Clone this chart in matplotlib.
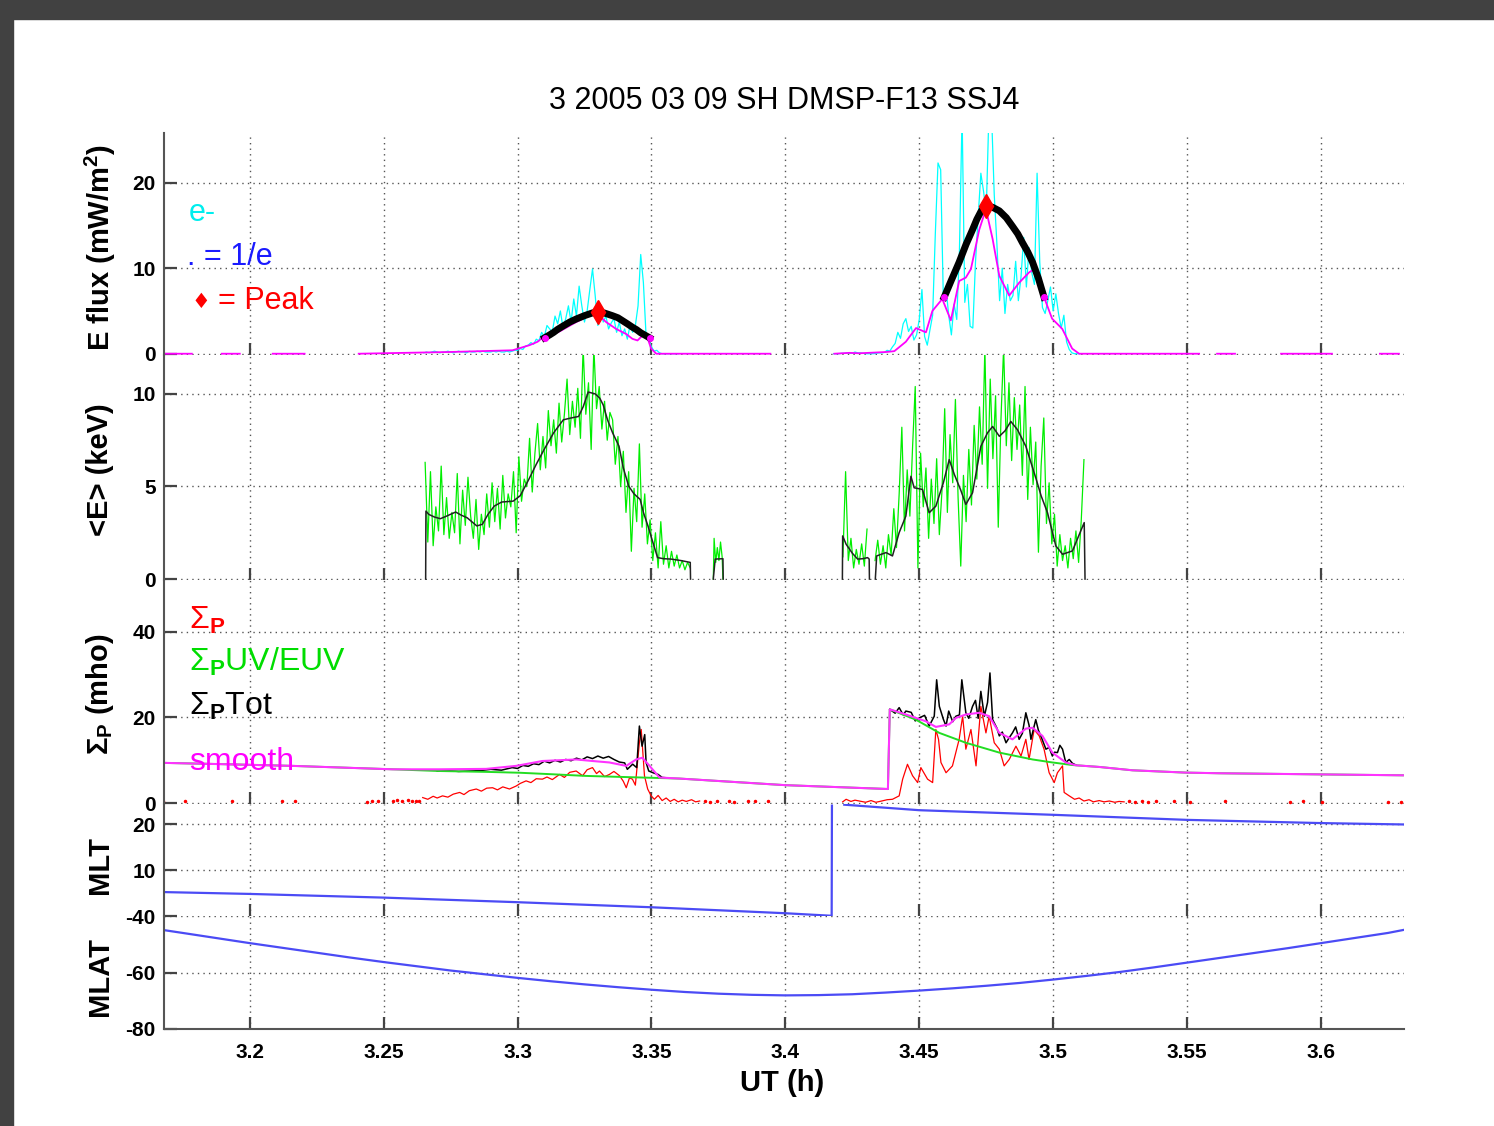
import numpy as np
import matplotlib
matplotlib.use("Agg")
import matplotlib.pyplot as plt
from matplotlib.patches import Rectangle

plt.rcParams["font.family"] = ["Liberation Sans", "DejaVu Sans"]
plt.rcParams["mathtext.fontset"] = "custom"
plt.rcParams["mathtext.rm"] = "Liberation Sans"
plt.rcParams["mathtext.bf"] = "Liberation Sans:bold"
plt.rcParams["mathtext.it"] = "Liberation Sans:italic"
plt.rcParams["axes.unicode_minus"] = False

nan = np.nan

ut_range = (3.168, 3.631)
ut_ticks = [3.2, 3.25, 3.3, 3.35, 3.4, 3.45, 3.5, 3.55, 3.6]
ut_ticklabels = ["3.2", "3.25", "3.3", "3.35", "3.4", "3.45", "3.5", "3.55", "3.6"]
sample_dt = 0.001

# panel 1: electron energy flux (mW/m^2)
eflux_raw_a_start = 3.265
eflux_raw_a = [0.1, 0.2, 0.1, 0.2, 0.3, 0.2, 0.1, 0.2, 0.2, 0.3, 0.2, 0.1, 0.2,
               0.3, 0.2, 0.2, 0.1, 0.3, 0.2, 0.2, 0.3, 0.2, 0.3, 0.2, 0.2,
               0.2, 0.3, 0.2, 0.3, 0.2, 0.2, 0.3, 0.2, 0.3, 0.4,
               0.4, 0.6, 0.5, 0.9, 1.0, 1.3, 1.1, 1.7, 1.5, 2.5,
               2.0, 3.3, 2.9, 2.6, 4.4, 3.5, 5.0, 3.0, 4.1, 5.6,
               3.7, 6.4, 4.4, 7.9, 5.6, 3.7, 5.0, 7.5, 9.9, 6.8,
               3.3, 5.6, 3.7, 4.4, 2.9, 3.6, 4.1, 2.5, 3.7, 2.1,
               2.9, 1.7, 3.3, 2.5, 3.3, 5.6, 11.6, 8.3, 2.1, 1.7,
               0.8, 0.3, 0.4, 0.1, 0, 0, 0, 0, 0, 0, 0]
eflux_raw_b_start = 3.418
eflux_raw_b = [0, 0, 0, 0.05, 0.05, 0.1, 0.05, 0.05, 0.2, 0.1,
               0.1, 0.05, 0, 0, 0, 0, 0.05, 0.1, 0.1, 0.15,
               0.4, 0.3, 0.8, 1.2, 2.5, 1.8, 3.5, 4.1, 2.6, 3.2,
               1.6, 2.2, 4.0, 7.5, 2.0, 1.0, 2.8, 4.5, 14.0, 22.3,
               21.5, 6.4, 7.6, 4.5, 2.2, 5.8, 4.0, 12.0, 28, 6.0,
               8.1, 3.2, 3.0, 10.7, 16.0, 21.1, 19.0, 16.5, 28, 28,
               18.6, 12.8, 6.2, 10.0, 4.7, 8.1, 6.2, 6.8, 10.8, 6.2,
               9.0, 13.6, 7.8, 12.4, 9.5, 8.1, 21.1, 10.7, 5.4, 4.7,
               6.2, 7.8, 5.0, 7.0, 4.7, 3.0, 4.5, 1.4, 0.5, 0.1,
               0, 0, 0]
eflux_smooth_t = [3.1675, 3.1784, nan, 3.1896, 3.1963, nan, 3.2086, 3.2205, nan,
                  3.2407, 3.2746, 3.2981, 3.3045, 3.3075, 3.3093, 3.3157, 3.3219,
                  3.3256, 3.3287, 3.3306, 3.3331, 3.3368, 3.3406, 3.3429, 3.3448,
                  3.3466, 3.3485, 3.3499, 3.3518, 3.3944, nan,
                  3.4183, 3.4240, 3.4276, 3.4377, 3.4407, 3.4450, 3.4488, 3.4525,
                  3.4549, 3.4586, 3.4618, 3.4649, 3.4674, 3.4693, 3.4724, 3.4749,
                  3.4774, 3.4799, 3.4836, 3.4873, 3.4910, 3.4935, 3.4966, 3.4996,
                  3.5034, 3.5071, 3.5097, 3.5545, nan, 3.5612, 3.5679, nan,
                  3.5851, 3.6041, nan, 3.6220, 3.6291]
eflux_smooth = [0, 0, nan, 0, 0, nan, 0, 0, nan,
                0, 0.2, 0.4, 1.0, 1.4, 1.86, 2.6, 3.7,
                4.26, 4.65, 4.4, 3.7, 2.9, 2.3, 1.74, 1.55,
                2.1, 1.86, 0.6, 0, 0, nan,
                0, 0.1, 0.05, 0.2, 0.3, 1.4, 3.0, 2.5,
                5.0, 6.4, 3.9, 8.5, 8.9, 9.9, 14.5, 16.9,
                13.4, 9.1, 6.8, 8.3, 9.5, 10.0, 6.6, 4.1,
                2.9, 0.6, 0, 0, nan, 0, 0, nan,
                0, 0, nan, 0, 0]
fit_a_t = [3.3101, 3.3120, 3.3135, 3.3150, 3.3168, 3.3195, 3.3220, 3.3250, 3.3280,
           3.3302, 3.3325, 3.3354, 3.3375, 3.3390, 3.3410, 3.3429, 3.3445, 3.3460,
           3.3477, 3.3493]
fit_a = [1.86, 2.2, 2.5, 2.85, 3.2, 3.7, 4.07, 4.45, 4.77,
         4.88, 4.75, 4.45, 4.2, 3.9, 3.5, 3.1, 2.8, 2.45,
         2.15, 1.86]
fit_b_t = [3.4593, 3.4620, 3.4649, 3.4675, 3.4699, 3.4715, 3.4730, 3.4740, 3.4749,
           3.4760, 3.4775, 3.4799, 3.4825, 3.4848, 3.4868, 3.4885, 3.4905, 3.4923,
           3.4945, 3.4966]
fit_b = [6.6, 8.6, 10.7, 12.8, 14.5, 15.7, 16.6, 17.1, 17.3,
         17.25, 17.1, 16.7, 15.9, 14.9, 14.0, 13.0, 11.9, 10.7,
         8.8, 6.6]
peak_t = [3.3302, 3.4749]
peak_flux = [4.88, 17.3]
efold_t = [3.3101, 3.3493, 3.4593, 3.4966]
efold_flux = [1.86, 1.86, 6.6, 6.6]

# panel 2: mean energy <E> (keV)
energy_a_start = 3.2655
energy_a = [6.3, 2.0, 5.8, 1.8, 3.9, 2.6, 6.1, 2.4, 4.4, 2.2,
            3.6, 2.5, 5.7, 1.9, 4.8, 2.9, 5.5, 3.4, 2.2, 4.3,
            1.6, 3.5, 2.4, 4.6, 2.8, 5.2, 3.1, 4.9, 2.7, 5.6,
            3.3, 4.6, 3.9, 5.8, 2.5, 6.6, 4.2, 5.4, 5.0, 7.6,
            4.7, 6.8, 8.4, 5.9, 7.7, 6.0, 9.1, 7.2, 8.6, 6.8,
            9.5, 7.4, 8.9, 10.8, 7.8, 9.6, 8.2, 10.3, 7.6, 12.5,
            8.9, 10.6, 7.0, 12.5, 9.2, 10.4, 8.1, 9.6, 7.5, 9.0,
            8.6, 6.2, 7.7, 5.0, 6.9, 3.6, 5.8, 1.5, 4.9, 3.1,
            7.3, 2.8, 4.6, 1.9, 3.2, 1.0, 2.5, 0.6, 3.1, 0.8,
            1.8, 0.6, 1.5, 0.7, 1.3, 0.6, 1.0, 0.5, 0.9, 0.6]
energy_c_t = [3.3731, 3.3734, 3.3740, 3.3746, 3.3752, 3.3758, 3.3764, 3.3767]
energy_c = [0, 2.2, 0.9, 1.7, 1.0, 2.0, 1.2, 0]
energy_b_start = 3.4215
energy_b = [1.2, 5.8, 1.0, 2.2, 0.6, 1.6, 0.8, 1.9, 0.7, 2.7,
            nan, nan, 1.0, 2.1, 0.8, 1.8, 0.6, 2.4, 1.3, 3.8,
            1.7, 4.6, 8.2, 2.6, 5.9, 3.4, 7.1, 10.4, 0.6, 6.8,
            3.9, 6.0, 2.2, 5.4, 3.0, 6.5, 2.4, 4.8, 9.2, 3.6,
            7.8, 5.2, 9.7, 4.4, 0.7, 5.6, 3.1, 7.0, 4.0, 8.3,
            5.4, 9.3, 6.2, 12.5, 4.9, 10.8, 6.5, 9.9, 2.8, 8.6,
            12.5, 7.2, 10.6, 6.4, 9.8, 7.0, 9.4, 5.6, 10.4, 4.3,
            8.2, 5.1, 7.4, 1.45, 6.1, 8.7, 3.0, 5.2, 1.9, 3.5,
            0.7, 2.4, 1.0, 1.8, 0.6, 2.2, 1.1, 2.6, 0.9, 3.2,
            6.45]
energy_smooth_t = [3.2657, 3.2658, 3.2669, 3.2690, 3.2712, 3.2735, 3.2769, 3.2790,
                   3.2812, 3.2848, 3.2869, 3.2890, 3.2913, 3.2941, 3.2984, 3.3010,
                   3.3042, 3.3070, 3.3099, 3.3135, 3.3171, 3.3200, 3.3228, 3.3245,
                   3.3264, 3.3290, 3.3307, 3.3320, 3.3336, 3.3355, 3.3379, 3.3395,
                   3.3415, 3.3435, 3.3458, 3.3470, 3.3487, 3.3505, 3.3523, 3.3545,
                   3.3573, 3.3610, 3.3645, 3.3646, nan,
                   3.3731, 3.3738, 3.3767, 3.3768, nan,
                   3.4213, 3.4214, 3.4227, 3.4250, 3.4270, 3.4290, 3.4307, 3.4313,
                   3.4314, nan, 3.4336, 3.4341, 3.4376, 3.4400, 3.4425, 3.4450,
                   3.4469, 3.4481, 3.4512, 3.4537, 3.4562, 3.4590, 3.4612, 3.4631,
                   3.4655, 3.4674, 3.4699, 3.4730, 3.4755, 3.4774, 3.4799, 3.4820,
                   3.4842, 3.4867, 3.4898, 3.4935, 3.4955, 3.4979, 3.5010, 3.5035,
                   3.5072, 3.5103, 3.5116, 3.5119]
energy_smooth = [0, 3.67, 3.49, 3.35, 3.26, 3.4, 3.62, 3.45,
                 3.31, 2.87, 2.96, 3.5, 3.94, 4.16, 4.21, 4.5,
                 5.38, 6.2, 6.99, 7.9, 8.6, 8.7, 8.78, 9.3,
                 10.1, 10.0, 9.77, 9.4, 8.6, 7.9, 7.17, 6.0,
                 5.02, 4.6, 4.30, 3.6, 2.87, 2.0, 1.16, 1.1,
                 1.08, 1.0, 0.9, 0, nan,
                 0, 1.08, 1.1, 0, nan,
                 0, 2.33, 1.88, 1.4, 1.08, 1.1, 1.16, 1.08,
                 0, nan, 0, 1.25, 1.43, 1.25, 2.51, 3.4,
                 5.55, 4.93, 4.84, 3.58, 3.94, 5.2, 6.45, 5.65,
                 4.8, 4.03, 4.66, 7.17, 7.9, 8.24, 7.71, 8.0,
                 8.51, 8.06, 7.17, 5.47, 4.5, 3.58, 1.79, 1.34,
                 1.52, 2.6, 3.05, 0]

# panel 3: Pedersen conductance (mho)
sigma_smooth_t = [3.1680, 3.1900, 3.2160, 3.2534, 3.2709, 3.2883, 3.2995, 3.3093,
                  3.3219, 3.3280, 3.3343, 3.3406, 3.3443, 3.3466, 3.3493, 3.3530,
                  3.3604, 3.4000, 3.4383, 3.4390, 3.4450, 3.4525, 3.4562, 3.4612,
                  3.4637, 3.4674, 3.4724, 3.4761, 3.4799, 3.4848, 3.4898, 3.4923,
                  3.4960, 3.4997, 3.5047, 3.5085, 3.5172, 3.5296, 3.5495, 3.5619, 3.6306]
sigma_smooth = [9.4, 9.1, 8.7, 7.9, 7.9, 8.0, 8.7, 9.84,
                10.2, 9.84, 9.5, 8.7, 10.2, 10.6, 8.7, 5.98,
                5.74, 4.2, 3.3, 21.9, 20.7, 19.1, 17.8, 18.4,
                19.9, 20.7, 21.1, 20.3, 16.4, 14.9, 17.4, 17.6,
                15.7, 11.8, 9.5, 8.84, 8.45, 7.67, 7.13, 6.98, 6.5]
sigma_uv_t = [3.1680, 3.1900, 3.2160, 3.2534, 3.2709, 3.2883, 3.3007, 3.3131,
              3.3254, 3.3466, 3.3604, 3.4000, 3.4383, 3.4390, 3.4487, 3.4575,
              3.4674, 3.4799, 3.4923, 3.4997, 3.5072, 3.5172, 3.5296, 3.5495,
              3.5619, 3.6306]
sigma_uv = [9.4, 9.1, 8.7, 7.9, 7.5, 7.3, 7.1, 6.74,
            6.36, 5.98, 5.74, 4.2, 3.3, 21.9, 19.5, 16.4,
            14.1, 11.8, 10.2, 9.5, 8.9, 8.45, 7.67, 7.13,
            6.98, 6.5]
sigma_tot_t = [3.270, 3.274, 3.278, 3.282, 3.286, 3.290, 3.294, 3.298, 3.300, 3.302,
               3.304, 3.306, 3.308, 3.310, 3.312, 3.314, 3.316, 3.318, 3.320, 3.322,
               3.324, 3.326, 3.328, 3.330, 3.332, 3.334, 3.336, 3.338, 3.340, 3.341,
               3.343, 3.3445, 3.3455, 3.3465, 3.3475, 3.348, 3.349, 3.351, 3.3525,
               3.354, 3.356, nan,
               3.4390, 3.4410, 3.4425, 3.4440, 3.4450, 3.4470, 3.4485, 3.4500,
               3.4520, 3.4537, 3.4556, 3.4565, 3.4575, 3.4590, 3.4600, 3.4610,
               3.4625, 3.4637, 3.4650, 3.4659, 3.4674, 3.4685, 3.4699, 3.4710,
               3.4720, 3.4730, 3.4743, 3.4755, 3.4764, 3.4774, 3.4790, 3.4799,
               3.4810, 3.4824, 3.4835, 3.4848, 3.4860, 3.4873, 3.4885, 3.4898,
               3.4910, 3.4917, 3.4935, 3.4945, 3.4954, 3.4973, 3.4985, 3.4997,
               3.5005, 3.5016, 3.5025, 3.5035, 3.5047, 3.5060, 3.5072, 3.5085]
sigma_tot = [7.5, 7.6, 7.4, 7.5, 7.6, 7.9, 7.7, 8.3, 8.1, 8.8,
             8.6, 9.2, 9.0, 9.8, 9.4, 10.0, 9.6, 10.2, 9.9, 10.5,
             10.1, 10.8, 10.4, 11.0, 10.5, 10.9, 10.2, 9.6, 9.4, 7.9,
             9.1, 8.3, 18.0, 13.3, 16.0, 9.5, 7.5, 7.0, 6.7,
             6.0, 5.9, nan,
             21.9, 21.0, 22.3, 20.6, 21.5, 21.2, 19.2, 19.9,
             20.5, 18.0, 20.3, 28.8, 22.6, 19.6, 18.0, 21.5,
             19.0, 20.3, 20.6, 28.8, 21.1, 19.8, 22.6, 24.0,
             19.8, 26.1, 20.3, 23.5, 30.4, 19.5, 17.5, 15.7,
             16.6, 14.1, 15.2, 16.4, 17.8, 14.9, 16.3, 21.1,
             18.2, 14.9, 19.5, 17.0, 15.7, 12.6, 13.0, 11.0,
             11.9, 11.8, 13.5, 12.6, 9.5, 10.2, 9.3, 8.9]
sigma_p_t = [3.2646, 3.2665, 3.2685, 3.2700, 3.2720, 3.2740, 3.2760, 3.2784, 3.2800, 3.2820,
             3.2846, 3.2865, 3.2885, 3.2907, 3.2925, 3.2945, 3.2970, 3.2995, 3.3010, 3.3032,
             3.3050, 3.3070, 3.3093, 3.3110, 3.3130, 3.3157, 3.3175, 3.3195, 3.3219, 3.3243,
             3.3260, 3.3280, 3.3295, 3.3306, 3.3325, 3.3343, 3.3360, 3.3381, 3.3395, 3.3406,
             3.3418, 3.3429, 3.3440, 3.3455, 3.3462, 3.3474, 3.3486, 3.3499, 3.3511, 3.3525,
             3.3540, 3.3555, 3.3570, 3.3585, 3.3600, 3.3615, 3.3630, 3.3650, 3.3665, 3.3680,
             nan,
             3.4214, 3.4227, 3.4245, 3.4260, 3.4276, 3.4300, 3.4320, 3.4338, 3.4360, 3.4380,
             3.4400, 3.4425, 3.4438, 3.4456, 3.4475, 3.4494, 3.4506, 3.4531, 3.4550, 3.4562,
             3.4572, 3.4581, 3.4600, 3.4624, 3.4649, 3.4662, 3.4674, 3.4693, 3.4712, 3.4730,
             3.4749, 3.4761, 3.4780, 3.4799, 3.4817, 3.4836, 3.4861, 3.4880, 3.4898, 3.4910,
             3.4929, 3.4948, 3.4966, 3.4985, 3.5004, 3.5016, 3.5035, 3.5041, 3.5060, 3.5080,
             3.5097, 3.5115, 3.5134, 3.5150, 3.5172, 3.5190, 3.5210, 3.5230, 3.5246, 3.5265]
sigma_p = [1.3, 0.9, 1.6, 1.2, 1.7, 1.4, 2.1, 2.5, 2.0, 2.9,
           3.3, 2.8, 3.5, 3.6, 3.1, 3.8, 3.3, 4.0, 4.6, 5.2,
           4.8, 5.7, 5.6, 6.1, 5.5, 6.7, 6.0, 7.2, 7.5, 6.4,
           7.8, 8.3, 6.9, 7.5, 6.2, 6.7, 7.4, 6.4, 5.1, 3.6,
           5.9, 5.6, 4.2, 14.1, 17.2, 6.4, 3.3, 1.7, 0.9, 1.8,
           0.6, 1.2, 0.4, 0.9, 0.3, 0.7, 0.4, 0.8, 0.3, 0.5,
           nan,
           0.3, 0.9, 0.4, 0.7, 0.5, 0.2, 0.6, 0.2, 0.5, 0.8,
           0.9, 1.7, 5.6, 9.07, 6.4, 4.8, 8.3, 5.6, 4.8, 17.2,
           14.9, 9.5, 7.1, 8.7, 14.9, 20.3, 12.6, 17.2, 8.7, 22.6,
           16.4, 20.3, 14.1, 12.6, 8.7, 10.2, 13.3, 11.0, 14.9, 10.2,
           17.2, 15.7, 12.6, 7.1, 4.8, 7.1, 8.7, 2.5, 1.7, 0.9,
           1.2, 0.5, 0.8, 0.3, 0.6, 0.3, 0.5, 0.2, 0.4, 0.3]
sigma_p_dots_t = [3.1675, 3.1757, 3.1933, 3.2119, 3.2168, 3.2437, 3.2455, 3.2478,
                  3.2534, 3.2550, 3.2570, 3.2590, 3.2605, 3.2620, 3.2634,
                  3.3700, 3.3720, 3.3745, 3.3790, 3.3810, 3.3860, 3.3885, 3.3935,
                  3.5285, 3.5305, 3.5330, 3.5355, 3.5383, 3.5453, 3.5510, 3.5643,
                  3.5883, 3.5932, 3.6002, 3.6249, 3.6298]
sigma_p_dots = [0.4, 0.4, 0.4, 0.4, 0.4, 0.3, 0.5, 0.4,
                0.4, 0.7, 0.5, 0.8, 0.4, 0.6, 0.5,
                0.5, 0.3, 0.6, 0.4, 0.3, 0.5, 0.4, 0.4,
                0.4, 0.2, 0.4, 0.3, 0.4, 0.4, 0.3, 0.4,
                0.3, 0.4, 0.2, 0.3, 0.2]

# panels 4-5: magnetic local time (h) and magnetic latitude (deg)
mlt_t = [3.168, 3.2, 3.25, 3.3, 3.35, 3.4, 3.4173, 3.4174, nan,
         3.422, 3.45, 3.5, 3.55, 3.6, 3.631]
mlt = [5.2, 4.8, 4.0, 3.0, 1.9, 0.6, 0.05, 24.0, nan,
       24.2, 23.0, 22.0, 20.9, 20.2, 19.9]
mlat_t = [3.168, 3.175, 3.1875, 3.2, 3.2125, 3.225, 3.2375, 3.25, 3.2625, 3.275,
          3.2875, 3.3, 3.3125, 3.325, 3.3375, 3.35, 3.3625, 3.375, 3.3875, 3.4,
          3.4125, 3.425, 3.4375, 3.45, 3.4625, 3.475, 3.4875, 3.5, 3.5125, 3.525,
          3.5375, 3.55, 3.5625, 3.575, 3.5875, 3.6, 3.6125, 3.625, 3.631]
mlat = [-45.0, -46.0, -47.8, -49.6, -51.3, -53.0, -54.7, -56.3, -57.8, -59.3,
        -60.6, -61.9, -63.1, -64.2, -65.2, -66.1, -66.9, -67.5, -67.9, -68.1,
        -68.0, -67.7, -67.1, -66.4, -65.6, -64.7, -63.7, -62.5, -61.2, -59.8,
        -58.2, -56.5, -54.8, -53.1, -51.4, -49.6, -47.8, -46.0, -44.9]


def sample_times(start, values):
    return start + sample_dt * np.arange(len(values))


W, H = 1494, 1126
fig = plt.figure(figsize=(W / 100, H / 100), dpi=100)
fig.patches.append(Rectangle((0, 1 - 19 / H), 1, 19 / H, transform=fig.transFigure,
                             color="#414141", zorder=0))
fig.patches.append(Rectangle((0, 0), 13 / W, 1, transform=fig.transFigure,
                             color="#414141", zorder=0))


def panel(top, bottom, ylim, yticks, last=False):
    ax = fig.add_axes([164 / W, 1 - bottom / H, 1240 / W, (bottom - top) / H])
    ax.set_xlim(*ut_range)
    ax.set_ylim(*ylim)
    ax.set_xticks(ut_ticks)
    ax.set_yticks(yticks)
    ax.grid(True, linestyle=(0, (1, 3)), color="#555555", lw=1)
    for s in ["top", "right"]:
        ax.spines[s].set_visible(False)
    ax.spines["bottom"].set_visible(last)
    for s in ["left", "bottom"]:
        ax.spines[s].set_color("#555555")
        ax.spines[s].set_linewidth(1.5)
    ax.tick_params(direction="in", length=9, width=1.6, color="#444444",
                   labelsize=15, pad=6)
    ax.tick_params(axis="x", labelbottom=last, pad=10)
    if last:
        ax.set_xticklabels(ut_ticklabels)
    for lab in ax.get_xticklabels() + ax.get_yticklabels():
        lab.set_fontweight("bold")
    ax.patch.set_alpha(0)
    return ax


ax1 = panel(133, 355, (-0.15, 25.8), [0, 10, 20])
ax2 = panel(355, 580, (-0.05, 12.1), [0, 5, 10])
ax3 = panel(580, 804, (-0.2, 52.1), [0, 20, 40])
ax4 = panel(804, 916, (0, 24.35), [10, 20])
ax5 = panel(916, 1029, (-80, -40), [-80, -60, -40], last=True)

# E flux
ax1.plot(sample_times(eflux_raw_a_start, eflux_raw_a), eflux_raw_a, color="#00ffff", lw=0.9)
ax1.plot(sample_times(eflux_raw_b_start, eflux_raw_b), eflux_raw_b, color="#00ffff", lw=0.9)
ax1.plot(eflux_smooth_t, eflux_smooth, color="#ff00ff", lw=1.3)
ax1.plot(fit_a_t, fit_a, color="k", lw=5, solid_joinstyle="round")
ax1.plot(fit_b_t, fit_b, color="k", lw=5, solid_joinstyle="round")
ax1.plot(efold_t, efold_flux, "o", color="#ff00ff", ms=4, ls="none")
ax1.plot(peak_t, peak_flux, "d", color="#ff0000", ms=12, ls="none")

# <E>
ax2.plot(sample_times(energy_a_start, energy_a), energy_a, color="#00ee00", lw=0.9)
ax2.plot(energy_c_t, energy_c, color="#00ee00", lw=0.9)
ax2.plot(sample_times(energy_b_start, energy_b), energy_b, color="#00ee00", lw=0.9)
ax2.plot(energy_smooth_t, energy_smooth, color="#222222", lw=1.1)

# Sigma_P
ax3.plot(sigma_p_t, sigma_p, color="#ff0000", lw=0.9)
ax3.plot(sigma_p_dots_t, sigma_p_dots, ".", color="#ff0000", ms=3, ls="none")
ax3.plot(sigma_tot_t, sigma_tot, color="k", lw=1.1)
ax3.plot(sigma_uv_t, sigma_uv, color="#22dd22", lw=1.4)
ax3.plot(sigma_smooth_t, sigma_smooth, color="#ff33ff", lw=1.5)

# MLT / MLAT
ax4.plot(mlt_t, mlt, color="#4b4bf5", lw=1.6)
ax5.plot(mlat_t, mlat, color="#4b4bf5", lw=1.6)


def ftext(x, y, s, **kw):
    fig.text(x / W, 1 - y / H, s, **kw)


ftext(784, 101, "3 2005 03 09 SH DMSP-F13 SSJ4", ha="center", va="center", fontsize=22)
ftext(782, 1083, "UT (h)", ha="center", va="center", fontsize=21, fontweight="bold")
ylab = dict(rotation=90, ha="center", va="center", fontsize=21, fontweight="bold")
ftext(100, 247, "E flux (mW/m$^\\mathbf{2}$)", **ylab)
ftext(100, 470, "<E> (keV)", **ylab)
ftext(100, 694, r"$\mathbf{\Sigma_P}$ (mho)", **ylab)
ftext(100, 865, "MLT", **ylab)
ftext(100, 976, "MLAT", **ylab)

ftext(189, 213, "e-", color="#00eeee", ha="left", va="center", fontsize=22)
ftext(187, 257, ". = 1/e", color="#1a1aff", ha="left", va="center", fontsize=22)
ftext(192, 302, "\u2666", color="#ff0000", ha="left", va="center", fontsize=15,
      family=["DejaVu Sans"])
ftext(218, 301, "= Peak", color="#ff0000", ha="left", va="center", fontsize=22)

ftext(189, 620, r"$\Sigma_\mathbf{P}$", color="#ff0000", ha="left", va="center", fontsize=23)
ftext(189, 662, r"$\Sigma_\mathbf{P}$UV/EUV", color="#00dd00", ha="left", va="center", fontsize=23)
ftext(189, 706, r"$\Sigma_\mathbf{P}$Tot", color="k", ha="left", va="center", fontsize=23)
ftext(189, 762, "smooth", color="#ff00ff", ha="left", va="center", fontsize=23)

fig.savefig("out.png", dpi=100)
